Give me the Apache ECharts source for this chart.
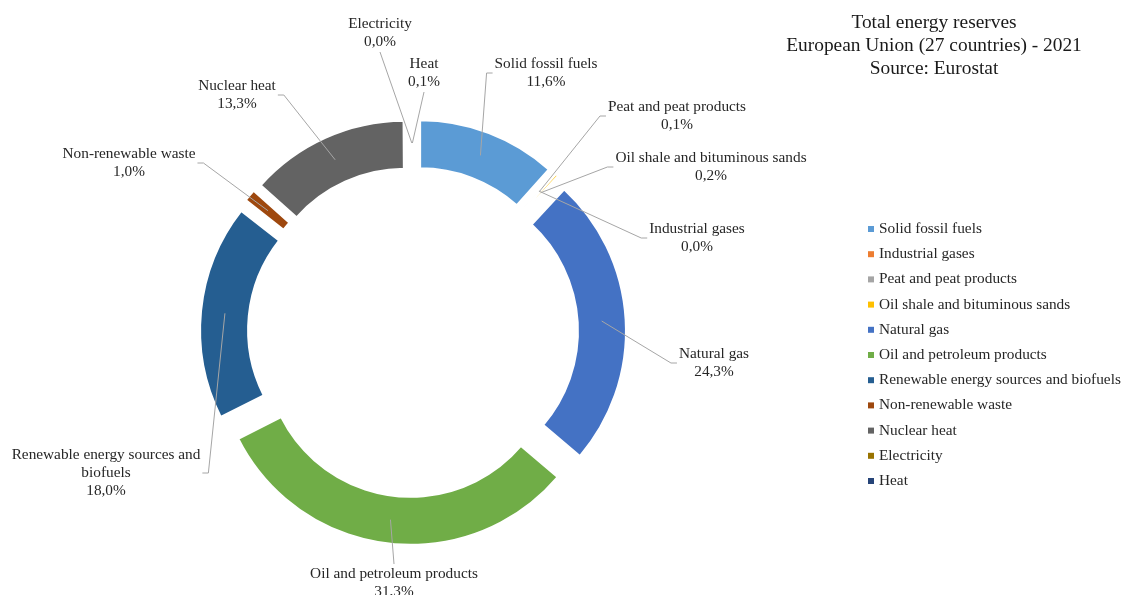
<!DOCTYPE html>
<html>
<head>
<meta charset="utf-8">
<title>Total energy reserves - EU27 2021</title>
<script src="https://cdn.jsdelivr.net/npm/echarts@6/dist/echarts.min.js"></script>
<style>
  html, body { margin: 0; padding: 0; background: #ffffff; }
  #chart { width: 1126px; height: 595px; }
</style>
</head>
<body>
<div id="chart"></div>
<script>
// Energy categories, clockwise from 12 o'clock
const categories = [
  'Solid fossil fuels',
  'Industrial gases',
  'Peat and peat products',
  'Oil shale and bituminous sands',
  'Natural gas',
  'Oil and petroleum products',
  'Renewable energy sources and biofuels',
  'Non-renewable waste',
  'Nuclear heat',
  'Electricity',
  'Heat'
];
// Share of total energy reserves, %
const shares = [11.6, 0.0, 0.1, 0.2, 24.3, 31.3, 18.0, 1.0, 13.3, 0.0, 0.1];
const colors = [
  '#5B9BD5', '#ED7D31', '#A5A5A5', '#FFC000', '#4472C4', '#70AD47',
  '#255E91', '#9E480E', '#636363', '#997300', '#264478'
];
const titleLines = [
  'Total energy reserves',
  'European Union (27 countries) - 2021',
  'Source: Eurostat'
];

// Ring geometry (px)
const CENTER = [413, 332];
const R_IN = 145;
const R_OUT = 193;
const EXPLODE = 20;
const RING_MID = (R_IN + R_OUT) / 2;

// Centres of the data labels around the ring
const labelPos = {
  'Solid fossil fuels': [546, 73],
  'Industrial gases': [697, 238],
  'Peat and peat products': [677, 116],
  'Oil shale and bituminous sands': [711, 167],
  'Natural gas': [714, 363],
  'Oil and petroleum products': [394, 583],
  'Renewable energy sources and biofuels': [106, 473],
  'Non-renewable waste': [129, 163],
  'Nuclear heat': [237, 95],
  'Electricity': [380, 33],
  'Heat': [424, 73]
};
// Manual line breaks for long label names
const labelText = {
  'Renewable energy sources and biofuels': 'Renewable energy sources and\nbiofuels'
};

const FONT = '"Liberation Serif", "Times New Roman", serif';
const TEXT_COLOR = '#262626';

function fmtPct(v) {
  return v.toFixed(1).replace('.', ',') + '%';
}

// Exploded ring: every slice is pulled out from the centre
const ringData = categories.map((name, i) => ({
  name: name,
  value: shares[i],
  selected: true,
  itemStyle: { color: colors[i] }
}));

// Invisible twin ring that only carries the data labels and leader lines
const labelData = categories.map((name, i) => ({
  name: name,
  value: shares[i]
}));

function placeLabel(params) {
  const name = categories[params.dataIndex];
  const pos = labelPos[name];
  const pts0 = params.labelLinePoints;
  let dirX = 0, dirY = -1;
  if (pts0 && pts0.length) {
    const dx = pts0[0][0] - CENTER[0];
    const dy = pts0[0][1] - CENTER[1];
    const len = Math.sqrt(dx * dx + dy * dy) || 1;
    dirX = dx / len; dirY = dy / len;
  }
  // leader line starts in the middle of the (exploded) ring segment
  const anchor = [CENTER[0] + dirX * (RING_MID + EXPLODE), CENTER[1] + dirY * (RING_MID + EXPLODE)];
  const w = params.labelRect.width;
  const h = params.labelRect.height;
  const left = pos[0] - w / 2, right = pos[0] + w / 2;
  const top = pos[1] - h / 2, bottom = pos[1] + h / 2;
  let pts;
  if (anchor[0] < left - 2) {
    pts = [anchor, [left - 8, pos[1]], [left - 2, pos[1]]];
  } else if (anchor[0] > right + 2) {
    pts = [anchor, [right + 8, pos[1]], [right + 2, pos[1]]];
  } else if (anchor[1] > bottom) {
    pts = [anchor, [pos[0], bottom + 1]];
  } else {
    pts = [anchor, [pos[0], top - 1]];
  }
  return {
    x: pos[0],
    y: pos[1],
    align: 'center',
    verticalAlign: 'middle',
    labelLinePoints: pts
  };
}

const chart = echarts.init(document.getElementById('chart'), null, { renderer: 'canvas' });

chart.setOption({
  animation: false,
  backgroundColor: '#ffffff',
  color: colors,
  title: {
    text: titleLines.join('\n'),
    left: 929,
    top: 6,
    textAlign: 'center',
    textStyle: {
      fontFamily: FONT,
      fontSize: 19.4,
      fontWeight: 'normal',
      color: '#1a1a1a',
      lineHeight: 23
    }
  },
  legend: {
    orient: 'vertical',
    left: 863,
    top: 216,
    icon: 'rect',
    itemWidth: 6,
    itemHeight: 6,
    itemGap: 9.2,
    selectedMode: false,
    data: categories,
    itemStyle: { borderWidth: 0 },
    textStyle: {
      fontFamily: FONT,
      fontSize: 15.3,
      color: TEXT_COLOR,
      lineHeight: 16,
      padding: [0, 0, 0, 0]
    }
  },
  series: [
    {
      type: 'pie',
      name: 'ring',
      center: CENTER,
      radius: [R_IN, R_OUT],
      startAngle: 90,
      clockwise: true,
      selectedMode: 'multiple',
      selectedOffset: EXPLODE,
      emphasis: { disabled: true },
      select: { itemStyle: { borderWidth: 2, borderColor: '#ffffff' } },
      itemStyle: { borderWidth: 2, borderColor: '#ffffff' },
      label: { show: false },
      labelLine: { show: false },
      data: ringData
    },
    {
      type: 'pie',
      name: 'labels',
      center: CENTER,
      radius: [R_IN, R_OUT],
      startAngle: 90,
      clockwise: true,
      silent: true,
      selectedMode: false,
      avoidLabelOverlap: false,
      minShowLabelAngle: 0,
      z: 3,
      emphasis: { disabled: true },
      itemStyle: { color: 'rgba(0,0,0,0)', borderWidth: 0 },
      label: {
        show: true,
        position: 'outside',
        fontFamily: FONT,
        fontSize: 15.3,
        lineHeight: 18,
        color: TEXT_COLOR,
        align: 'center',
        formatter: function (p) {
          const nm = labelText[p.name] || p.name;
          return nm + '\n' + fmtPct(p.value);
        }
      },
      labelLine: {
        show: true,
        length: 10,
        length2: 10,
        lineStyle: { color: '#A6A6A6', width: 1 }
      },
      labelLayout: placeLabel,
      data: labelData
    }
  ]
});
</script>
</body>
</html>
